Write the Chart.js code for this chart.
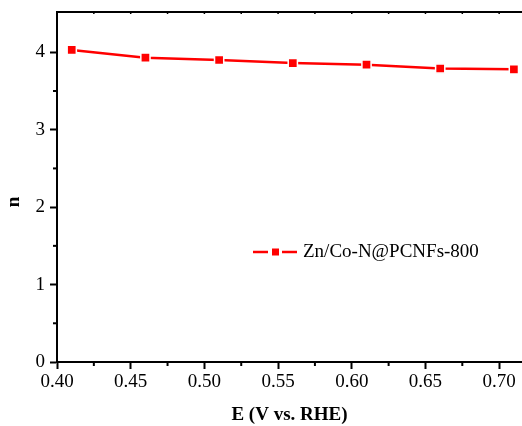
<!DOCTYPE html>
<html><head><meta charset="utf-8">
<script src="https://cdn.jsdelivr.net/npm/chart.js@4"></script>
<style>html,body{margin:0;padding:0;background:#fff}#wrap{width:522px;height:426px}</style>
</head><body><div id="wrap"><canvas id="c" width="522" height="426"></canvas></div>
<script>
const potentials = [0.41, 0.46, 0.51, 0.56, 0.61, 0.66, 0.71];
const electronNumbers = [4.03, 3.93, 3.90, 3.86, 3.84, 3.79, 3.78];
const seriesLabel = 'Zn/Co-N@PCNFs-800';
const xTitle = 'E (V vs. RHE)';
const yTitle = 'n';
const xMinorTicks = [0.425, 0.475, 0.525, 0.575, 0.625, 0.675, 0.725];
const yMinorTicks = [0.5, 1.5, 2.5, 3.5];

const FONT = "'Liberation Serif','Times New Roman',serif";

const extras = {
  id: 'extras',
  afterDraw(chart) {
    const ctx = chart.ctx, a = chart.chartArea;
    const xs = chart.scales.x, ys = chart.scales.y;
    ctx.save();
    ctx.strokeStyle = '#000';
    ctx.lineWidth = 2;
    ctx.beginPath();
    ctx.moveTo(a.left - 1, a.top); ctx.lineTo(a.right, a.top); ctx.stroke();
    xMinorTicks.forEach(v => {
      const px = xs.getPixelForValue(v);
      if (px > a.right) return;
      ctx.beginPath(); ctx.moveTo(px, a.bottom); ctx.lineTo(px, a.bottom + 4); ctx.stroke();
    });
    ctx.lineWidth = 1.5;
    [...xs.ticks.map(t => t.value), ...xMinorTicks].forEach(v => {
      const px = xs.getPixelForValue(v);
      if (px > a.right) return;
      ctx.beginPath(); ctx.moveTo(px, a.top); ctx.lineTo(px, a.top + 2); ctx.stroke();
    });
    ctx.lineWidth = 2;
    yMinorTicks.forEach(v => {
      const py = ys.getPixelForValue(v);
      ctx.beginPath(); ctx.moveTo(a.left, py); ctx.lineTo(a.left - 4, py); ctx.stroke();
    });
    // y title
    ctx.save();
    ctx.translate(14, 202);
    ctx.rotate(-Math.PI / 2);
    ctx.fillStyle = '#000';
    ctx.font = 'bold 19px ' + FONT;
    ctx.textAlign = 'center';
    ctx.textBaseline = 'middle';
    ctx.fillText(yTitle, 0, 0);
    ctx.restore();
    // legend
    const lx = 253, ly = 252;
    ctx.strokeStyle = '#ff0000';
    ctx.lineWidth = 2.5;
    ctx.beginPath(); ctx.moveTo(lx, ly); ctx.lineTo(lx + 15, ly); ctx.stroke();
    ctx.beginPath(); ctx.moveTo(lx + 29, ly); ctx.lineTo(lx + 44, ly); ctx.stroke();
    ctx.fillStyle = '#ff0000';
    ctx.fillRect(lx + 19, ly - 3.5, 7, 7);
    ctx.fillStyle = '#000';
    ctx.font = '19px ' + FONT;
    ctx.textBaseline = 'middle';
    ctx.textAlign = 'left';
    ctx.fillText(seriesLabel, lx + 50, ly);
    ctx.restore();
  }
};

new Chart(document.getElementById('c'), {
  type: 'line',
  data: {
    datasets: [{
      label: seriesLabel,
      data: potentials.map((x, i) => ({x, y: electronNumbers[i]})),
      borderColor: '#ff0000',
      backgroundColor: '#ff0000',
      borderWidth: 2.5,
      pointStyle: 'rect',
      pointRadius: 6.5,
      pointBorderColor: '#ffffff',
      pointBorderWidth: 1.5,
      pointBackgroundColor: '#ff0000',
      tension: 0
    }]
  },
  options: {
    responsive: false,
    animation: false,
    layout: { autoPadding: false, padding: { top: 12, right: 0, left: 0, bottom: 0 } },
    plugins: { legend: { display: false }, tooltip: { enabled: false } },
    scales: {
      x: {
        type: 'linear',
        min: 0.40, max: 0.7155,
        ticks: { stepSize: 0.05, includeBounds: false, color: '#000', font: { family: FONT, size: 19 }, padding: 2,
          callback: v => v.toFixed(2), maxRotation: 0 },
        grid: { display: true, drawOnChartArea: false, drawTicks: true, tickLength: 7, tickWidth: 2, tickColor: '#000' },
        border: { display: true, width: 2, color: '#000' },
        title: { display: true, text: xTitle, color: '#000', font: { family: FONT, size: 19, weight: 'bold' }, padding: { top: 4, bottom: 0 } },
        afterFit: s => { s.height = 64; s.paddingLeft = 0; s.paddingRight = 0; }
      },
      y: {
        min: 0, max: 4.52,
        ticks: { stepSize: 1, includeBounds: false, color: '#000', font: { family: FONT, size: 19 }, padding: 5 },
        grid: { display: true, drawOnChartArea: false, drawTicks: true, tickLength: 7, tickWidth: 2, tickColor: '#000' },
        border: { display: true, width: 2, color: '#000' },
        title: { display: false },
        afterFit: s => { s.width = 57; s.paddingTop = 0; s.paddingBottom = 0; }
      }
    }
  },
  plugins: [extras]
});
</script></body></html>
